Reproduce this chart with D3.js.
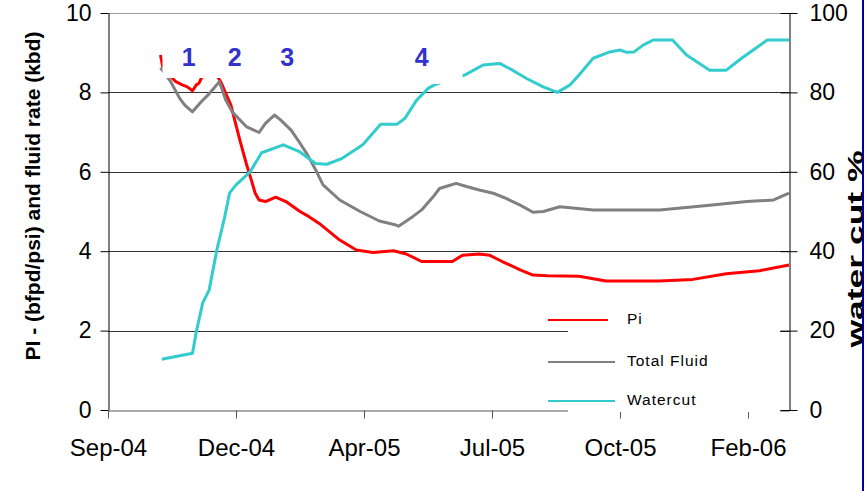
<!DOCTYPE html>
<html>
<head>
<meta charset="utf-8">
<script src="https://cdn.jsdelivr.net/npm/d3@7"></script>
<style>
  body { margin: 0; background: #fff; }
  svg { display: block; font-family: "Liberation Sans", Arial, sans-serif; }
</style>
</head>
<body>
<svg id="chart" width="867" height="491"></svg>
<script>
// values
var piDates = ["2004-10-31","2004-11-02","2004-11-12","2004-11-17","2004-11-21","2004-11-25","2004-11-28","2004-11-30",
  "2004-12-08","2004-12-17","2004-12-25","2005-01-01","2005-01-06","2005-01-10","2005-01-13","2005-01-16","2005-01-21",
  "2005-01-29","2005-02-06","2005-02-17","2005-02-24","2005-03-04","2005-03-20","2005-04-02","2005-04-15","2005-05-01",
  "2005-05-11","2005-05-23","2005-06-16","2005-06-24","2005-07-07","2005-07-15","2005-07-25","2005-08-08","2005-08-18",
  "2005-08-29","2005-09-23","2005-10-14","2005-11-25","2005-12-21","2006-01-16","2006-02-11","2006-03-06"];
var piValues = [8.94,8.6,8.27,8.19,8.14,8.04,8.19,8.23,
  8.75,8.27,7.68,6.8,6.21,5.79,5.46,5.29,5.25,
  5.36,5.25,5.0,4.87,4.7,4.28,4.03,3.97,4.01,
  3.93,3.74,3.74,3.9,3.93,3.9,3.74,3.53,3.4,
  3.38,3.37,3.25,3.25,3.29,3.43,3.51,3.65];

var fluidDates = ["2004-10-31","2004-11-03","2004-11-08","2004-11-15","2004-11-19","2004-11-25","2004-12-02","2004-12-07",
  "2004-12-14","2004-12-16","2004-12-21","2004-12-26","2005-01-06","2005-01-16","2005-01-21","2005-01-28","2005-02-02",
  "2005-02-10","2005-02-17","2005-02-23","2005-03-02","2005-03-07","2005-03-20","2005-04-05","2005-04-20","2005-05-03",
  "2005-05-05","2005-05-16","2005-05-23","2005-06-01","2005-06-06","2005-06-11","2005-06-19","2005-06-27","2005-07-07",
  "2005-07-18","2005-07-28","2005-08-08","2005-08-18","2005-08-26","2005-09-08","2005-10-04","2005-11-25","2006-01-03",
  "2006-02-01","2006-02-22","2006-03-06"];
var fluidValues = [8.62,8.5,8.27,7.85,7.68,7.51,7.77,7.93,
  8.19,8.27,7.81,7.51,7.14,6.99,7.22,7.43,7.3,
  7.05,6.72,6.42,6.0,5.67,5.29,5.0,4.76,4.66,
  4.63,4.87,5.04,5.37,5.58,5.63,5.71,5.63,5.54,
  5.46,5.33,5.16,4.98,5.0,5.12,5.04,5.04,5.16,
  5.25,5.29,5.46];

var wcDates = ["2004-11-01","2004-11-25","2004-11-28","2004-12-03","2004-12-08","2004-12-14","2004-12-20","2004-12-24",
  "2004-12-29","2005-01-09","2005-01-18","2005-02-04","2005-02-17","2005-03-01","2005-03-10","2005-03-22","2005-04-07",
  "2005-04-21","2005-05-04","2005-05-10","2005-05-19","2005-05-28","2005-06-02","2005-06-14","2005-06-26","2005-07-10",
  "2005-07-23","2005-08-02","2005-08-13","2005-08-26","2005-09-06","2005-09-16","2005-09-23","2005-10-04","2005-10-17",
  "2005-10-25","2005-10-30","2005-11-05","2005-11-12","2005-11-20","2005-12-05","2005-12-16","2005-12-26","2006-01-03",
  "2006-01-16","2006-01-28","2006-02-08","2006-02-17","2006-03-06"];
var wcValues = [12.8,14.3,19.7,27,30.2,40.3,48.4,54.7,
  56.7,60,64.8,66.8,65,62.1,61.9,63.4,66.8,
  72,72,73.5,78,81,81.9,83.2,84.4,86.9,
  87.3,85.6,83.5,81.4,80,81.9,84.4,88.6,90.2,
  90.7,90.1,90.2,91.9,93.2,93.2,89.4,87.3,85.6,
  85.6,88.6,91.1,93.2,93.2];

var eventLabels = ["1", "2", "3", "4"];
var eventDates = ["2004-11-22", "2004-12-28", "2005-02-07", "2005-05-23"];

var leftTicks = [0, 2, 4, 6, 8, 10];
var rightTicks = [0, 20, 40, 60, 80, 100];
var xStart = "2004-09-20", xEnd = "2006-03-06", xStepDays = 100;

var seriesNames = ["Pi", "Total Fluid", "Watercut"];
var seriesColors = ["#ff0000", "#808080", "#33cccc"];

(function() {
var parse = d3.utcParse("%Y-%m-%d");
var svg = d3.select("#chart");
var pLeft = 108, pRight = 789, pTop = 13, pBottom = 410;

var x = d3.scaleUtc().domain([parse(xStart), parse(xEnd)]).range([pLeft, pRight]);
var yL = d3.scaleLinear().domain([0, 10]).range([pBottom, pTop]);
var yR = d3.scaleLinear().domain([0, 100]).range([pBottom, pTop]);

var xTicks = d3.range(0, 6).map(function(k) { return d3.utcDay.offset(parse(xStart), k * xStepDays); });

// gridlines
svg.append("g").selectAll("line")
  .data(leftTicks.filter(function(t) { return t > 0; }))
  .enter().append("line")
  .attr("x1", pLeft).attr("x2", pRight)
  .attr("y1", function(d) { return Math.round(yL(d)) + 0.5; })
  .attr("y2", function(d) { return Math.round(yL(d)) + 0.5; })
  .attr("stroke", function(d) { return d === 10 ? "#999" : "#333"; })
  .attr("stroke-width", 1);

// left axis
var gL = svg.append("g").attr("transform", "translate(" + (pLeft + 0.5) + ",0)")
  .call(d3.axisLeft(yL).tickValues(leftTicks).tickSize(8).tickSizeOuter(0).tickPadding(9));
gL.select(".domain").attr("stroke", "#000");
gL.selectAll("text").attr("font-size", 23).attr("fill", "#000");

// bottom axis
var gB = svg.append("g").attr("transform", "translate(0," + (pBottom + 0.5) + ")")
  .call(d3.axisBottom(x).tickValues(xTicks).tickFormat(d3.utcFormat("%b-%y")).tickSize(8).tickSizeOuter(0).tickPadding(20));
gB.select(".domain").attr("stroke", "#555");
gB.selectAll("line").attr("stroke", "#555");
gB.selectAll("text").attr("font-size", 24).attr("fill", "#000");

// series
var line = d3.line().x(function(d) { return x(d[0]); });
function addSeries(dates, values, yScale, color) {
  var pts = dates.map(function(d, i) { return [parse(d), values[i]]; });
  svg.append("path")
    .datum(pts)
    .attr("fill", "none")
    .attr("stroke", color)
    .attr("stroke-width", 3)
    .attr("stroke-linejoin", "round")
    .attr("d", line.y(function(d) { return yScale(d[1]); }));
}
addSeries(piDates, piValues, yL, seriesColors[0]);
addSeries(fluidDates, fluidValues, yL, seriesColors[1]);
addSeries(wcDates, wcValues, yR, seriesColors[2]);

// event labels sit on white boxes that hide the lines behind them
var ev = eventDates.map(function(d) { return x(parse(d)); });
svg.append("rect").attr("x", 162.5).attr("y", 36).attr("width", ev[2] + 18 - 162.5).attr("height", 42).attr("fill", "#fff");
svg.append("rect").attr("x", ev[3] - 23).attr("y", 36).attr("width", 64).attr("height", 48).attr("fill", "#fff");
svg.append("g").selectAll("text")
  .data(eventLabels)
  .enter().append("text")
  .attr("x", function(d, i) { return ev[i]; })
  .attr("y", yL(8.67))
  .attr("text-anchor", "middle")
  .attr("font-size", 25)
  .attr("font-weight", "bold")
  .attr("fill", "#3333cc")
  .text(function(d) { return d; });

// legend
var lg = svg.append("g");
lg.append("rect").attr("x", 568).attr("y", 313).attr("width", 212).attr("height", 99).attr("fill", "#fff");
var legendY = [320, 362, 401];
var legendEnd = [608, 615, 615];
seriesNames.forEach(function(name, i) {
  lg.append("line")
    .attr("x1", 548).attr("x2", legendEnd[i])
    .attr("y1", legendY[i]).attr("y2", legendY[i])
    .attr("stroke", seriesColors[i]).attr("stroke-width", 2);
  lg.append("text")
    .attr("x", 627).attr("y", legendY[i] + 4)
    .attr("font-size", 15.5)
    .attr("letter-spacing", "1px")
    .attr("fill", "#000")
    .text(name);
});

// right axis
var gR = svg.append("g").attr("transform", "translate(" + (pRight + 0.5) + ",0)")
  .call(d3.axisRight(yR).tickValues(rightTicks).tickSize(8).tickSizeOuter(0).tickPadding(12));
gR.select(".domain").attr("stroke", "#000");
gR.selectAll(".tick line").attr("x1", -9);
gR.selectAll("text").attr("font-size", 23).attr("fill", "#000");

// axis titles
svg.append("text")
  .attr("transform", "translate(40,196) rotate(-90)")
  .attr("text-anchor", "middle")
  .attr("font-size", 21)
  .attr("font-weight", "bold")
  .text("PI - (bfpd/psi) and fluid rate (kbd)");

// the right title is squashed against the frame edge in the original
svg.append("clipPath").attr("id", "edge")
  .append("rect").attr("x", 0).attr("y", 0).attr("width", 862).attr("height", 491);
svg.append("g").attr("clip-path", "url(#edge)")
  .append("text")
  .attr("transform", "translate(863,249) rotate(-90) scale(1,0.62)")
  .attr("text-anchor", "middle")
  .attr("font-size", 35.5)
  .attr("font-weight", "bold")
  .text("water cut %");

// frame edge on the right
svg.append("line")
  .attr("x1", 863).attr("x2", 863).attr("y1", 0).attr("y2", 491)
  .attr("stroke", "#00009c").attr("stroke-width", 2);
})();
</script>
</body>
</html>
